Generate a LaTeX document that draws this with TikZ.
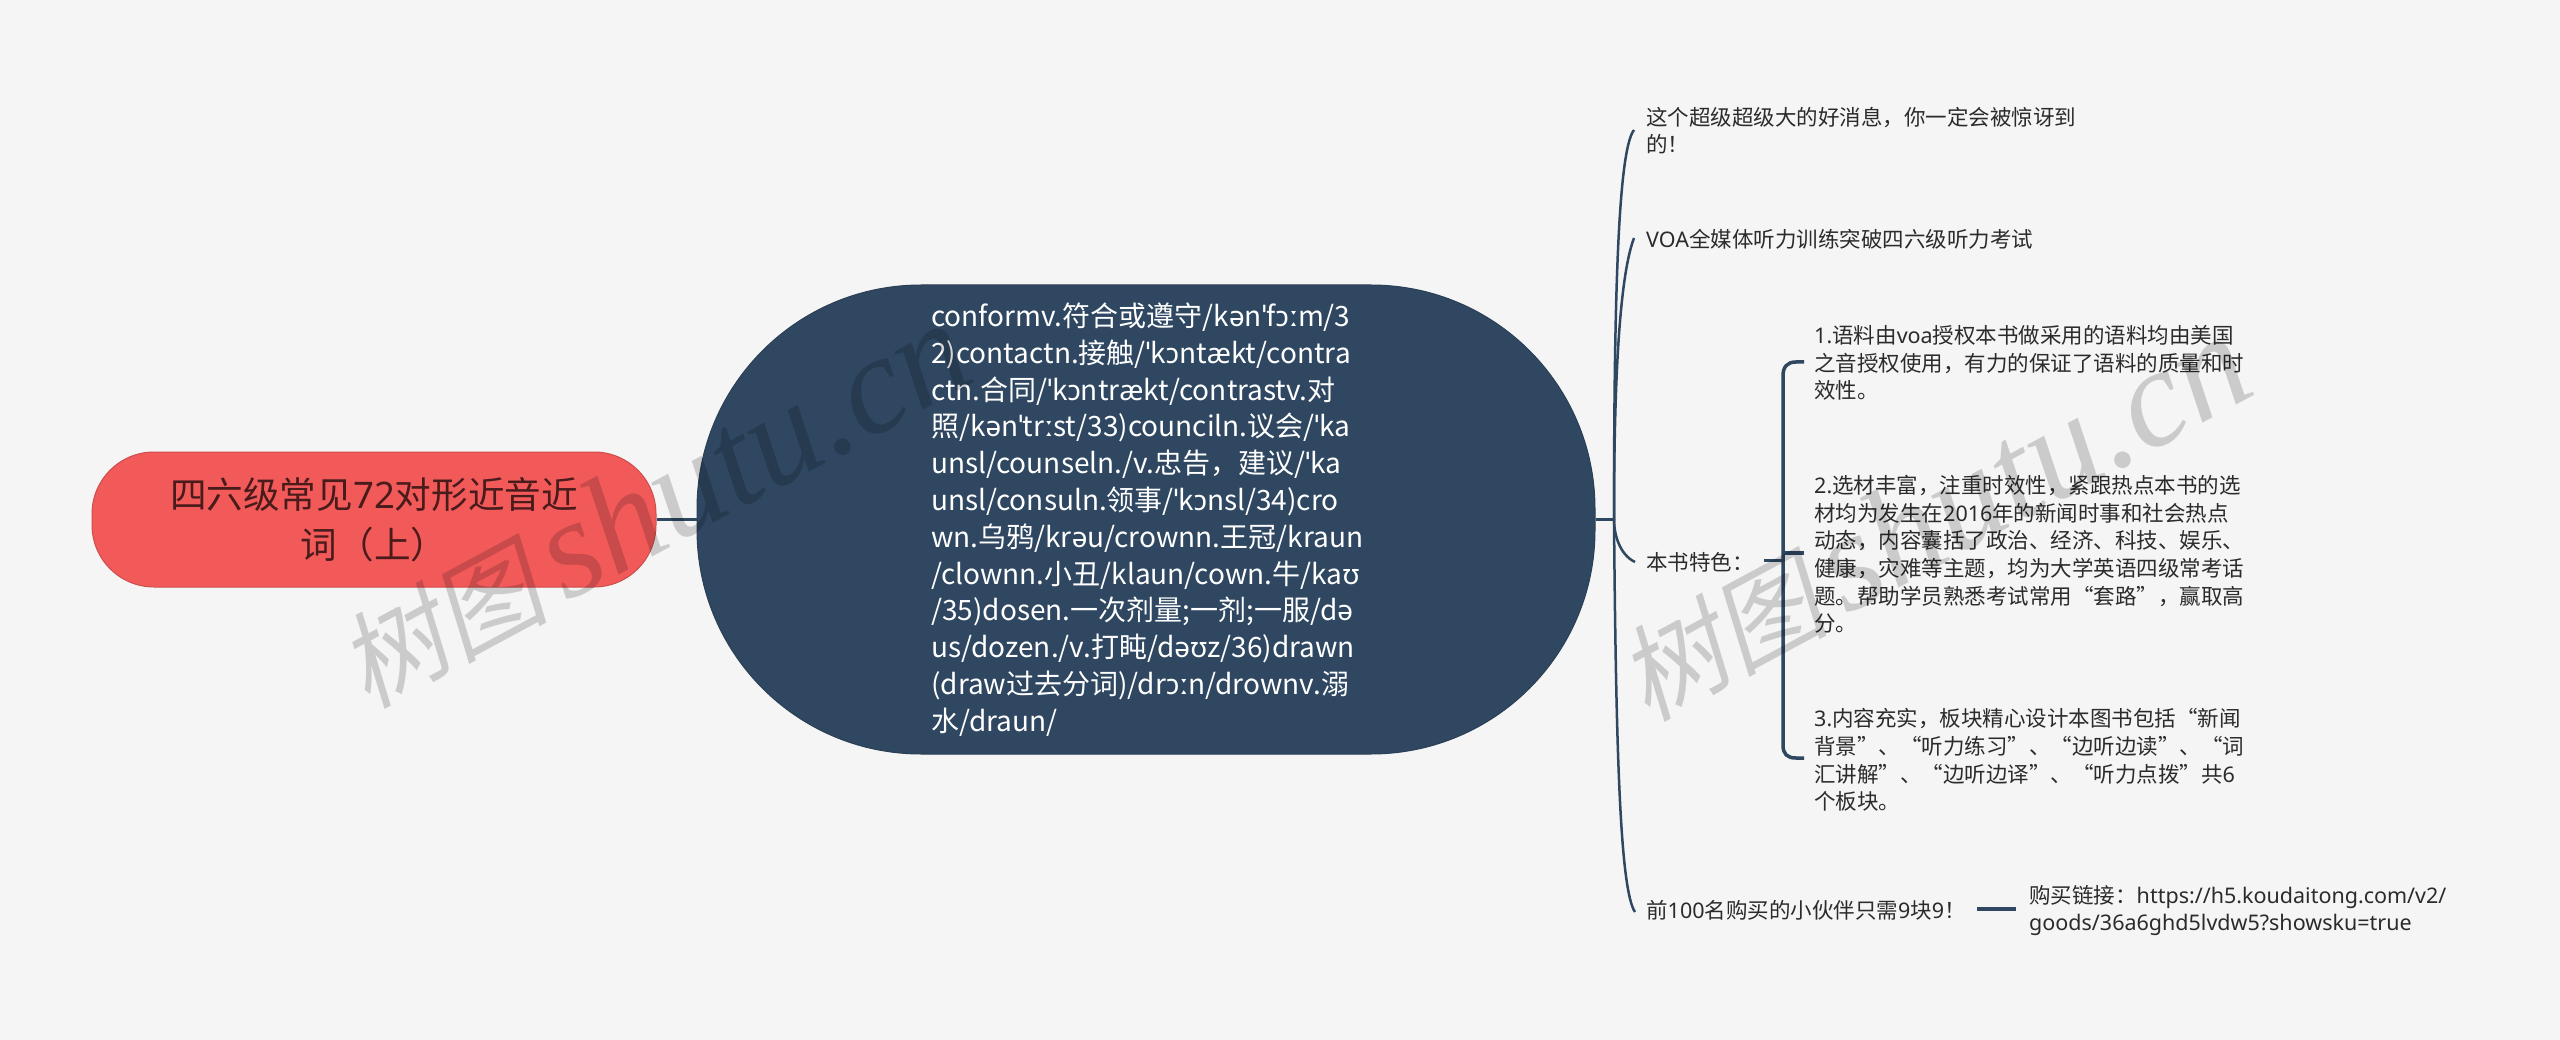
\documentclass[tikz,border=0pt]{standalone}
\usepackage{fontspec}
\setmainfont{Noto Sans CJK SC}
\newfontfamily\ipaf{Noto Sans}
\newfontfamily\wmcjk[FakeSlant=0.2]{Noto Sans CJK SC}
\newfontfamily\wmlat{Liberation Serif Italic}
\newcommand{\ip}[1]{{\ipaf #1}}
\definecolor{bgc}{HTML}{F5F5F5}
\definecolor{navy}{HTML}{2F4761}
\definecolor{navyd}{HTML}{2B3F55}
\definecolor{rootc}{HTML}{F25A5A}
\definecolor{txt}{HTML}{2B2B2B}
\tikzset{
  rootn/.style={draw=rootc!85!black,line width=1pt,fill=rootc,minimum width=564pt,minimum height=135pt,rounded corners=62pt,inner sep=0pt},
  mainn/.style={draw=navyd,line width=1pt,fill=navy,minimum width=898pt,minimum height=469pt,rounded corners=224pt,inner sep=0pt},
  leaf/.style={anchor=west,align=left,inner sep=0pt,text=txt,font=\fontsize{21.5}{27.6}\selectfont},
  link/.style={draw=navy,line width=2.5pt},
  wm/.style={rotate=28.3,black,opacity=.17,inner sep=0pt}
}
\begin{document}
\begin{tikzpicture}[x=1pt,y=-1pt]
\useasboundingbox (0,0) rectangle (2560,1040);
\fill[bgc] (0,0) rectangle (2560,1040);
\node[rootn] (root) at (374,519.5) {};
\node[mainn] (main) at (1146,519.5) {};
\node[anchor=center,align=center,inner sep=0pt,text=rootc!30!black,font=\fontsize{36.6}{50}\selectfont] (roottxt) at (374,520) {四六级常见\ip{72}对形近音近\\词（上）};
\node[anchor=west,align=left,inner sep=0pt,text=white,font=\fontsize{28}{36.8}\selectfont] (maintxt) at (931,519.5) {conformv.符合或遵守/k\ip{ə}n\ip{ˈ}f\ip{ɔː}m/3\\2)contactn.接触/\ip{ˈ}k\ip{ɔ}nt\ip{æ}kt/contra\\ctn.合同/\ip{ˈ}k\ip{ɔ}ntr\ip{æ}kt/contrastv.对\\照/k\ip{ə}n\ip{ˈ}tr\ip{ː}st/33)counciln.议会/\ip{ˈ}ka\\unsl/counseln./v.忠告，建议/\ip{ˈ}ka\\unsl/consuln.领事/\ip{ˈ}k\ip{ɔ}nsl/34)cro\\wn.乌鸦/kr\ip{ə}u/crownn.王冠/kraun\\/clownn.小丑/klaun/cown.牛/ka\ip{ʊ}\\/35)dosen.一次剂量;一剂;一服/d\ip{ə}\\us/dozen./v.打盹/d\ip{əʊ}z/36)drawn\\(draw过去分词)/dr\ip{ɔː}n/drownv.溺\\水/draun/};
\node[leaf] (a) at (1646,130.5) {这个超级超级大的好消息，你一定会被惊讶到\\的！};
\node[leaf] (b) at (1646,239) {\ip{VOA}全媒体听力训练突破四六级听力考试};
\node[leaf] (c) at (1646,562) {本书特色：};
\node[leaf] (c1) at (1814,363) {\ip{1.}语料由\ip{voa}授权本书做采用的语料均由美国\\之音授权使用，有力的保证了语料的质量和时\\效性。};
\node[leaf] (c2) at (1814,554.5) {\ip{2.}选材丰富，注重时效性，紧跟热点本书的选\\材均为发生在\ip{2016}年的新闻时事和社会热点\\动态，内容囊括了政治、经济、科技、娱乐、\\健康，灾难等主题，均为大学英语四级常考话\\题。帮助学员熟悉考试常用“套路”，赢取高\\分。};
\node[leaf] (c3) at (1814,760) {\ip{3.}内容充实，板块精心设计本图书包括“新闻\\背景”、“听力练习”、“边听边读”、“词\\汇讲解”、“边听边译”、“听力点拨”共\ip{6}\\个板块。};
\node[leaf] (d) at (1646,910) {前\ip{100}名购买的小伙伴只需\ip{9}块\ip{9}！};
\node[leaf] (d1) at (2029,910.5) {购买链接：\ip{https://h5.koudaitong.com/v2/}\\\ip{goods/36a6ghd5lvdw5?showsku=true}};
\coordinate (hub) at (1614,519.5);
\coordinate (ea) at (1634,130);
\coordinate (eb) at (1634,238);
\coordinate (ec) at (1635,562);
\coordinate (ed) at (1635,912);
\coordinate (br) at (1783,560);
\coordinate (ec1) at (1804,362);
\coordinate (ec2) at (1804,553);
\coordinate (ec3) at (1804,758);
\coordinate (cout) at (1764,560);
\coordinate (dout) at (1977,909);
\coordinate (dend) at (2016,909);
\draw[link,line width=3pt] (root.east) -- (main.west);
\draw[link,line width=3pt] (main.east) -- (hub);
\draw[link] (hub) .. controls (1614,300) and (1618,150) .. (ea);
\draw[link] (hub) .. controls (1614,400) and (1618,280) .. (eb);
\draw[link] (hub) .. controls (1614,535) and (1620,555) .. (ec);
\draw[link] (hub) .. controls (1616,750) and (1620,890) .. (ed);
\draw[link,line width=3pt] (cout) -- (br);
\draw[link,line width=3.5pt] (ec1) -- (1796,362) .. controls (1787,362) and (1783,367) .. (1783,376) -- (1783,745) .. controls (1783,754) and (1787,758) .. (1796,758) -- (ec3);
\draw[link,line width=3.5pt] (br |- ec2) -- (ec2);
\draw[link,line width=3.5pt] (dout) -- (dend);
\node[wm,anchor=west] (w1) at (346,671) {{\fontsize{105}{105}\wmcjk 树图}\hspace{16pt}{\fontsize{140}{140}\wmlat shutu.cn}};
\node[wm,anchor=west] (w2) at (1626,684) {{\fontsize{105}{105}\wmcjk 树图}\hspace{16pt}{\fontsize{140}{140}\wmlat shutu.cn}};
\end{tikzpicture}
\end{document}
